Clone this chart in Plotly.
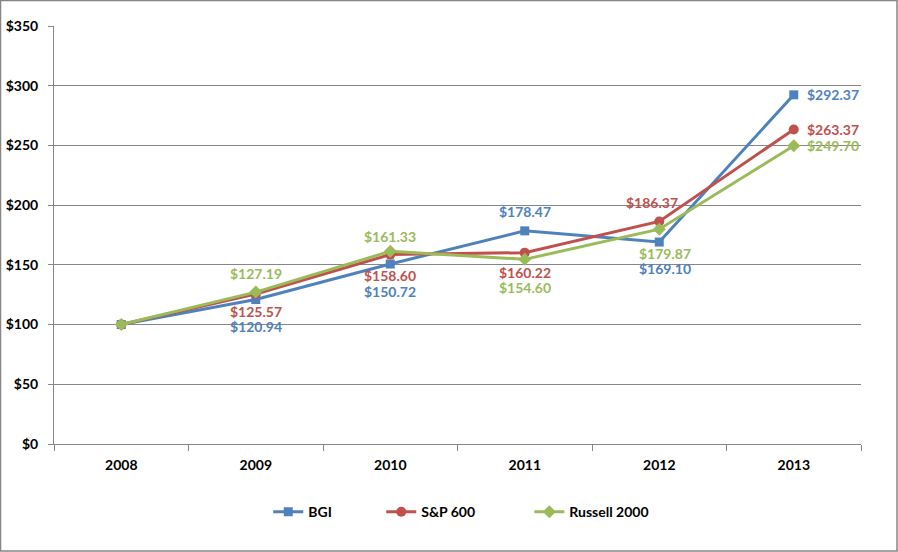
import plotly.graph_objects as go

years = ["2008", "2009", "2010", "2011", "2012", "2013"]
bgi = [100.00, 120.94, 150.72, 178.47, 169.10, 292.37]
sp600 = [100.00, 125.57, 158.60, 160.22, 186.37, 263.37]
russell = [100.00, 127.19, 161.33, 154.60, 179.87, 249.70]
y_ticks = [0, 50, 100, 150, 200, 250, 300, 350]

# label offsets (xshift, yshift) in pixels per point; None = no label
bgi_off = [None, (0, -27), (0, -27), (0, 19), (6, -26), (None, 0)]
sp_off = [None, (0, -17), (0, -21), (0, -20), (-7, 19), (None, 0)]
ru_off = [None, (0, 19), (0, 15), (0, -28), (6, -24), (None, 0)]

FONT = "Lato"
series = [
    ("BGI", bgi, "#4F81BD", "square", 9, bgi_off, "legend", 0.2655),
    ("S&P 600", sp600, "#C0504D", "circle", 10, sp_off, "legend2", 0.4055),
    ("Russell 2000", russell, "#9BBB59", "diamond", 10, ru_off, "legend3", 0.589),
]

xpos = list(range(len(years)))

fig = go.Figure()
annotations = []
legends = {}
for name, vals, color, sym, msize, offs, leg, lx in series:
    fig.add_trace(go.Scatter(
        x=xpos, y=vals, name=name, mode="lines+markers", legend=leg,
        line=dict(color=color, width=3),
        marker=dict(symbol=sym, size=msize, color=color),
    ))
    legends[leg] = dict(orientation="h", x=lx, xanchor="left", y=-0.163, yanchor="middle",
                        font=dict(family=FONT, size=14, color="black", weight="bold"),
                        bgcolor="rgba(0,0,0,0)")
    for xv, yv, off in zip(xpos, vals, offs):
        if off is None:
            continue
        dx, dy = off
        ann = dict(x=xv, y=yv, text=f"<b>${yv:.2f}</b>", showarrow=False,
                   font=dict(family=FONT, size=14, color=color), yshift=dy)
        if dx is None:
            ann.update(xanchor="left", xshift=11)
        else:
            ann.update(xshift=dx)
        annotations.append(ann)

fig.update_layout(
    width=898, height=552,
    margin=dict(l=54, r=37, t=26, b=108, autoexpand=False),
    paper_bgcolor="white", plot_bgcolor="white",
    font=dict(family=FONT, size=13, color="black"),
    showlegend=True,
    annotations=annotations,
    shapes=[dict(type="rect", xref="paper", yref="paper",
                 x0=-53.5/807, x1=1+36/807, y0=-107/418, y1=1+25.5/418,
                 line=dict(color="#868686", width=1.5))],
    **legends,
)
fig.update_xaxes(
    range=[-0.5, len(years) - 0.5], automargin=False,
    tickvals=xpos, ticktext=years, ticks="",
    minor=dict(tickvals=[i - 0.5 for i in range(len(years) + 1)], ticks="outside",
               ticklen=6, tickcolor="#868686", showgrid=False),
    showline=True, linecolor="#868686", linewidth=1, zeroline=False,
    showgrid=False, tickfont=dict(family=FONT, size=14, color="black", weight="bold"),
    ticklabelstandoff=8,
)
fig.update_yaxes(
    range=[0, 350], tickvals=y_ticks, ticktext=[f"${v}" for v in y_ticks], automargin=False,
    showgrid=True, gridcolor="#868686", gridwidth=1, zeroline=False,
    showline=True, linecolor="#868686", ticks="outside", ticklen=5, tickcolor="#868686",
    tickfont=dict(family=FONT, size=14, color="black", weight="bold"),
    ticklabelstandoff=7,
)
fig.write_html("out.html", config={"displayModeBar": False},
               post_script="document.body.style.margin='0';")
